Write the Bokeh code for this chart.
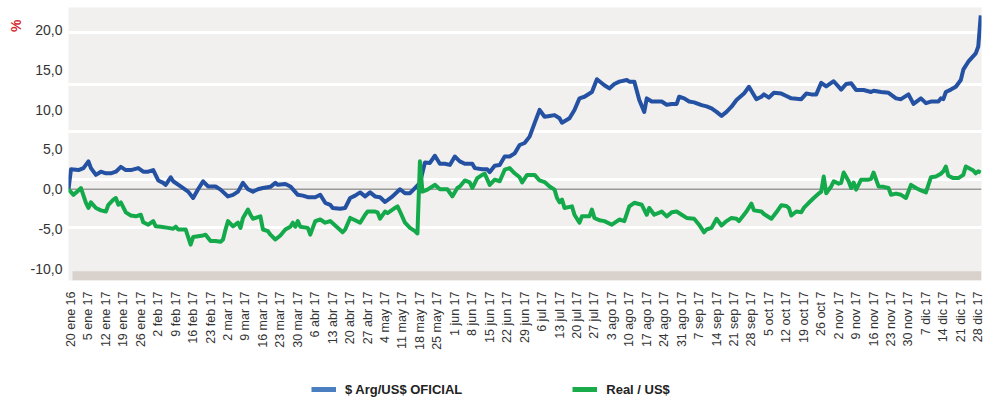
import math
from bokeh.plotting import figure
from bokeh.layouts import column
from bokeh.models import (ColumnDataSource, FixedTicker, Span, BoxAnnotation, Title,
                          Legend, LegendItem, Range1d)
from bokeh.embed import file_html
from bokeh.resources import INLINE

# ---- data (x = days after first tick label, y = % change) ----
arg_days = [-1, 0, 3, 5, 7, 8, 10, 12, 14, 16, 18, 20, 22, 24, 27, 29, 31, 33, 35, 37,
            38, 40, 41, 44, 47, 49, 51, 53, 55, 58, 60, 63, 65, 67, 69, 71, 73, 75, 77, 80,
            82, 83, 86, 88, 91, 93, 95, 98, 100, 102, 104, 105, 108, 110, 112, 114, 116, 118, 120, 122,
            124, 126, 129, 132, 134, 136, 138, 140, 142, 144, 146, 148, 150, 152, 154, 156, 158, 161, 162, 165,
            167, 168, 170, 172, 174, 176, 178, 180, 182, 184, 186, 188, 190, 192, 194, 196, 197, 200, 202, 204,
            206, 209, 211, 214, 216, 218, 220, 223, 224, 226, 228, 230, 231, 233, 237, 239, 241, 243, 244, 246,
            248, 250, 253, 255, 257, 259, 261, 263, 265, 267, 270, 272, 275, 277, 278, 280, 282, 285, 287, 289,
            293, 295, 297, 299, 301, 303, 306, 309, 311, 313, 315, 318, 321, 322, 325, 328, 331, 333, 336, 338,
            341, 343, 345, 348, 349, 350, 351, 353, 355, 357, 358, 360, 363, 364, 365]
arg_vals = [0.0, 2.5, 2.4, 2.65, 3.5, 2.65, 1.8, 2.2, 2.0, 2.0, 2.2, 2.8, 2.4, 2.4, 2.65, 2.2, 2.2, 2.4, 1.1, 0.8,
            0.55, 1.5, 1.0, 0.35, -0.3, -1.1, 0.0, 1.0, 0.35, 0.35, -0.05, -0.9, -0.7, -0.3, 0.8, 0.0, -0.3, 0.0, 0.15, 0.3,
            0.8, 0.55, 0.65, 0.35, -0.7, -0.8, -1.0, -1.0, -0.7, -1.7, -1.95, -2.35, -2.45, -2.35, -1.1, -0.8, -0.4, -0.9, -0.4, -0.9,
            -1.0, -1.6, -0.9, 0.0, -0.5, -0.5, 0.15, 0.8, 3.35, 3.3, 4.2, 3.2, 3.2, 3.05, 4.1, 3.5, 3.2, 3.2, 2.65, 2.5,
            2.5, 2.15, 2.95, 3.05, 4.1, 4.1, 4.5, 5.55, 5.8, 6.6, 8.3, 9.95, 9.1, 9.2, 9.3, 8.9, 8.35, 8.9, 9.95, 11.4,
            11.6, 12.2, 13.8, 13.05, 12.65, 13.2, 13.5, 13.7, 13.5, 13.5, 11.2, 9.7, 11.4, 11.0, 11.0, 10.6, 10.7, 10.7, 11.6, 11.4,
            11.0, 10.9, 10.55, 10.4, 10.15, 9.7, 9.2, 9.7, 10.35, 11.2, 12.0, 12.85, 11.3, 11.6, 11.9, 11.5, 12.1, 12.0, 11.7, 11.4,
            11.3, 12.0, 11.9, 11.9, 13.35, 12.9, 13.55, 12.5, 13.2, 13.3, 12.45, 12.45, 12.2, 12.35, 12.2, 12.1, 11.4, 11.3, 11.9, 10.7,
            11.4, 10.8, 11.0, 11.0, 11.4, 11.3, 12.2, 12.5, 12.85, 13.7, 15.0, 16.0, 17.05, 17.9, 21.8]

real_days = [-1, 1, 3, 4, 6, 7, 8, 10, 12, 14, 15, 17, 18, 19, 20, 22, 24, 26, 28, 29,
             31, 33, 34, 36, 39, 41, 42, 43, 46, 48, 49, 51, 53, 54, 56, 58, 60, 61, 62, 63,
             65, 67, 68, 69, 71, 72, 73, 76, 77, 79, 80, 82, 84, 86, 88, 89, 90, 91, 92, 95,
             96, 98, 100, 102, 104, 106, 109, 110, 112, 114, 116, 118, 119, 122, 123, 124, 126, 127, 130, 131,
             132, 134, 136, 138, 139, 140, 141, 143, 145, 146, 148, 151, 153, 155, 156, 158, 160, 161, 163, 165,
             166, 168, 170, 172, 174, 176, 178, 180, 181, 183, 186, 188, 190, 192, 194, 195, 196, 197, 198, 201,
             202, 204, 205, 208, 209, 210, 212, 214, 217, 220, 222, 224, 226, 229, 231, 232, 234, 237, 239, 241,
             243, 245, 247, 250, 252, 254, 255, 257, 259, 261, 263, 265, 267, 268, 270, 271, 273, 274, 277, 278,
             281, 283, 285, 287, 288, 289, 291, 293, 294, 296, 298, 300, 301, 302, 303, 305, 306, 308, 309, 310,
             312, 313, 314, 315, 317, 320, 321, 322, 324, 326, 328, 329, 331, 333, 335, 337, 339, 341, 343, 345,
             347, 349, 350, 351, 352, 354, 356, 358, 359, 362, 363, 364, 365]
real_vals = [0.0, -0.7, -0.15, 0.15, -1.7, -2.35, -1.65, -2.35, -2.65, -2.8, -1.95, -1.3, -1.1, -1.95, -1.65, -2.9, -3.3, -3.4, -3.2, -4.15,
             -4.45, -4.0, -4.65, -4.7, -4.85, -4.95, -4.7, -5.05, -5.05, -6.95, -6.0, -5.9, -5.8, -5.7, -6.5, -6.5, -6.6, -6.3, -5.05, -4.0,
             -4.65, -4.2, -4.85, -3.6, -2.55, -3.2, -3.7, -3.4, -5.05, -5.25, -5.7, -6.3, -5.8, -5.05, -4.7, -4.2, -4.7, -4.0, -4.7, -4.85,
             -5.7, -4.0, -3.8, -4.2, -4.0, -4.55, -5.4, -5.05, -3.6, -3.9, -4.2, -3.2, -2.8, -2.8, -2.9, -3.7, -2.8, -3.0, -2.35, -2.15,
             -2.8, -4.2, -4.85, -5.25, -5.55, 3.5, -0.3, -0.05, 0.35, 0.55, 0.0, 0.0, -0.9, 0.15, 0.35, 1.1, 0.85, 0.15, 1.4, 1.8,
             1.95, 0.55, 1.2, 1.0, 2.45, 2.65, 2.0, 1.5, 0.85, 1.8, 1.8, 1.1, 0.9, 0.35, -0.05, -1.1, -1.65, -1.3, -2.35, -2.15,
             -3.2, -4.2, -3.4, -3.4, -2.55, -3.6, -3.9, -4.0, -4.45, -3.8, -4.0, -2.15, -1.7, -1.95, -3.2, -2.35, -3.2, -2.8, -3.4, -2.9,
             -2.8, -3.2, -3.6, -3.7, -4.45, -5.4, -5.05, -4.85, -3.7, -4.55, -4.0, -3.6, -3.7, -4.0, -3.2, -2.8, -1.8, -2.65, -2.8, -3.1,
             -3.7, -2.9, -2.0, -2.1, -2.35, -3.3, -2.8, -2.9, -2.35, -1.7, -1.1, -0.55, -0.3, 1.6, -0.5, 0.35, 1.0, 0.7, 0.8, 2.1,
             1.0, 0.15, 0.85, -0.05, 1.2, 1.2, 1.3, 2.1, 0.35, 0.3, 0.15, -0.7, -0.55, -0.7, -1.1, 0.55, 0.15, -0.15, -0.4, 1.5,
             1.6, 1.95, 2.25, 2.85, 1.7, 1.4, 1.4, 1.8, 2.85, 2.35, 2.0, 2.25, 2.1]

tick_labels = ["20 ene 16", "5 ene 17", "12 ene 17", "19 ene 17", "26 ene 17", "2 feb 17", "9 feb 17",
               "16 feb 17", "23 feb 17", "2 mar 17", "9 mar 17", "16 mar 17", "23 mar 17", "30 mar 17",
               "6 abr 17", "13 abr 17", "20 abr 17", "27 abr 17", "4 may 17", "11 may 17", "18 may 17",
               "25 may 17", "1 jun 17", "8 jun 17", "15 jun 17", "22 jun 17", "29 jun 17", "6 jul 17",
               "13 jul 17", "20 jul 17", "27 jul 17", "3 ago 17", "10 ago 17", "17 ago 17", "24 ago 17",
               "31 ago 17", "7 sep 17", "14 sep 17", "21 sep 17", "28 sep 17", "5 oct 17", "12 oct 17",
               "19 oct 17", "26 oct 7", "2 nov 17", "9 nov 17", "16 nov 17", "23 nov 17", "30 nov 17",
               "7 dic 17", "14 dic 17", "21 dic 17", "28 dic 17"]
tick_days = [7 * i for i in range(len(tick_labels))]

y_ticks = [-10, -5, 0, 5, 10, 15, 20]
y_labels = ["-10,0", "-5,0", "0,0", "5,0", "10,0", "15,0", "20,0"]

series_names = ["$ Arg/US$ OFICIAL", "Real / US$"]

FONT = "Liberation Sans"
BLUE = "#2551a3"
GREEN = "#14a94b"

# ---------------- main chart ----------------
p = figure(width=991, height=355, output_backend="svg", toolbar_location=None,
           x_range=Range1d(-1, 365.3), y_range=Range1d(-11.45, 22.8),
           min_border_left=68, min_border_right=10, min_border_top=7, min_border_bottom=75,
           background_fill_color="#f1f0ee", border_fill_color="white")
p.outline_line_color = None

# grid
p.xgrid.grid_line_color = None
p.ygrid.ticker = FixedTicker(ticks=[19.65, 13.2, 7.2, 1.2, -4.8])
p.ygrid.grid_line_color = "white"
p.ygrid.grid_line_width = 3

# bottom band and zero line
p.add_layout(BoxAnnotation(bottom=-11.45, top=-10.3, left=0.6, fill_color="#d9d1cc",
                           fill_alpha=1, line_color=None, level="underlay"))
p.add_layout(Span(location=0, dimension="width", line_color="#9a9a9a", line_width=1.5,
                  level="underlay"))

src_a = ColumnDataSource(dict(x=arg_days, y=arg_vals))
src_r = ColumnDataSource(dict(x=real_days, y=real_vals))
p.line("x", "y", source=src_a, line_color=BLUE, line_width=4, line_join="round")
p.line("x", "y", source=src_r, line_color=GREEN, line_width=4, line_join="round")

# axes
p.yaxis.ticker = FixedTicker(ticks=y_ticks)
p.yaxis.major_label_overrides = {t: l for t, l in zip(y_ticks, y_labels)}
p.xaxis.ticker = FixedTicker(ticks=tick_days)
p.xaxis.major_label_overrides = {d: l for d, l in zip(tick_days, tick_labels)}
p.xaxis.major_label_orientation = math.pi / 2
for ax in (p.xaxis, p.yaxis):
    ax.axis_line_color = None
    ax.major_tick_line_color = None
    ax.minor_tick_line_color = None
    ax.major_tick_out = 0
    ax.major_tick_in = 0
    ax.minor_tick_out = 0
    ax.minor_tick_in = 0
    ax.major_label_text_font = FONT
    ax.major_label_text_color = "#333333"
p.yaxis.major_label_text_font_size = "14px"
p.yaxis.major_label_standoff = 6
p.xaxis.major_label_text_font_size = "12.5px"
p.xaxis.major_label_standoff = 11

# "%" unit label (left side, near the top)
p.add_layout(Title(text="%", align="right", offset=12, standoff=8, text_color="#d42a2f",
                   text_font=FONT, text_font_size="14px", text_font_style="bold"), "left")

# ---------------- legend strip ----------------
# the series are drawn again here out of view (x range beyond the data), only so the
# legend has renderers to draw its swatches from, in the legend's lighter tones
lg = figure(width=991, height=51, output_backend="svg", toolbar_location=None,
            x_range=Range1d(1000, 1001), y_range=Range1d(0, 1),
            x_axis_type=None, y_axis_type=None,
            min_border_left=68, min_border_right=10, min_border_top=0, min_border_bottom=0,
            background_fill_color="white", border_fill_color="white")
lg.outline_line_color = None
lg.grid.visible = False
leg_a = lg.line("x", "y", source=src_a, line_color="#4a7fc2", line_width=5)
leg_r = lg.line("x", "y", source=src_r, line_color="#1aab4a", line_width=5)
legend = Legend(items=[LegendItem(label=series_names[0], renderers=[leg_a]),
                       LegendItem(label=series_names[1], renderers=[leg_r])],
                orientation="horizontal", location=(243, 7), spacing=110,
                glyph_width=25, label_standoff=9, padding=0, margin=0,
                border_line_color=None, background_fill_alpha=0,
                label_text_font=FONT, label_text_font_style="bold",
                label_text_font_size="13px", label_text_color="#222222")
lg.add_layout(legend, "center")

layout = column(p, lg, spacing=0)
open("out.html", "w").write(file_html(layout, INLINE))
